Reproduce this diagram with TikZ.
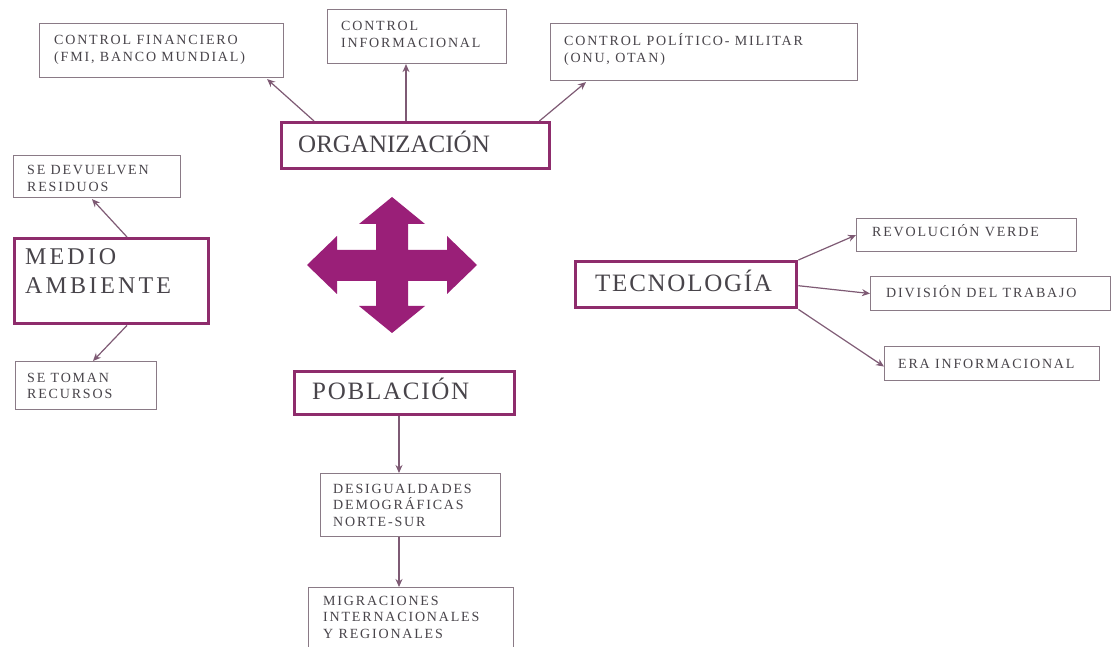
\documentclass[tikz,border=0pt]{standalone}
\usepackage{fontspec}
\setmainfont{Liberation Serif}
\newfontfamily\smallf[LetterSpace=13]{Liberation Serif}
\newfontfamily\bigf{Liberation Serif}
\usetikzlibrary{arrows.meta,calc}
\definecolor{thickc}{HTML}{8E2C6C}
\definecolor{crossc}{HTML}{9A1F78}
\definecolor{thinc}{HTML}{8A7A86}
\definecolor{txtc}{HTML}{48444A}
\definecolor{connc}{HTML}{7E5A74}
\begin{document}
\begin{tikzpicture}[x=1pt,y=-1pt,
  thinbox/.style={draw=thinc, line width=1.1pt, inner sep=0pt, anchor=north west},
  thickbox/.style={draw=thickc, line width=3.4pt, inner sep=0pt, anchor=north west},
  stxt/.style={text=txtc, inner sep=0pt, anchor=base west, font=\smallf\fontsize{14}{16.5}\selectfont},
  btxt/.style={text=txtc, inner sep=0pt, anchor=base west, font=\bigf\fontsize{25}{29}\selectfont},
  conn/.style={draw=connc, line width=1.2pt, -{Stealth[length=8pt,width=7pt]}}
]
\useasboundingbox (0,0) rectangle (1112,647);
\fill[white] (0,0) rectangle (1112,647);

% thin boxes
\node[thinbox, minimum width=244, minimum height=54] (fin) at (39,23) {};
\node[thinbox, minimum width=179, minimum height=54] (info) at (327,9) {};
\node[thinbox, minimum width=307, minimum height=57] (pol) at (550,23) {};
\node[thinbox, minimum width=167, minimum height=42] (dev) at (13,155) {};
\node[thinbox, minimum width=141, minimum height=48] (tom) at (15,361) {};
\node[thinbox, minimum width=220, minimum height=33] (rev) at (856,218) {};
\node[thinbox, minimum width=240, minimum height=34] (div) at (870,276) {};
\node[thinbox, minimum width=215, minimum height=34] (era) at (884,346) {};
\node[thinbox, minimum width=180, minimum height=63] (des) at (320,473) {};
\node[thinbox, minimum width=205, minimum height=80] (mig) at (308,587) {};

% thick boxes
\node[thickbox, minimum width=268, minimum height=46] (org) at (280,121) {};
\node[thickbox, minimum width=194, minimum height=85] (med) at (13,237) {};
\node[thickbox, minimum width=221, minimum height=46] (tec) at (574,260) {};
\node[thickbox, minimum width=220, minimum height=43] (pob) at (293,370) {};

% small texts
\node[stxt] (fint) at (54,45) {\begin{tabular}[t]{@{}l@{}}CONTROL FINANCIERO\\(FMI, BANCO MUNDIAL)\end{tabular}};
\node[stxt] (infot) at (341,31) {\begin{tabular}[t]{@{}l@{}}CONTROL\\INFORMACIONAL\end{tabular}};
\node[stxt] (polt) at (564,46) {\begin{tabular}[t]{@{}l@{}}CONTROL POLÍTICO- MILITAR\\(ONU, OTAN)\end{tabular}};
\node[stxt] (devt) at (27,175) {\begin{tabular}[t]{@{}l@{}}SE DEVUELVEN\\RESIDUOS\end{tabular}};
\node[stxt] (tomt) at (27,382) {\begin{tabular}[t]{@{}l@{}}SE TOMAN\\RECURSOS\end{tabular}};
\node[stxt] (revt) at (872,237) {REVOLUCIÓN VERDE};
\node[stxt] (divt) at (886,298) {DIVISIÓN DEL TRABAJO};
\node[stxt] (erat) at (898,368) {ERA INFORMACIONAL};
\node[stxt] (dest) at (333,493) {\begin{tabular}[t]{@{}l@{}}DESIGUALDADES\\DEMOGRÁFICAS\\NORTE-SUR\end{tabular}};
\node[stxt] (migt) at (323,605) {\begin{tabular}[t]{@{}l@{}}MIGRACIONES\\INTERNACIONALES\\Y REGIONALES\end{tabular}};

% big texts
\node[btxt] (orgt) at (298,153) {ORGANIZACIÓN};
\node[btxt, font=\bigf\fontsize{24}{29}\selectfont\addfontfeatures{LetterSpace=13}] (medt) at (25,265) {\begin{tabular}[t]{@{}l@{}}MEDIO\\AMBIENTE\end{tabular}};
\node[btxt, font=\bigf\fontsize{25}{29}\selectfont\addfontfeatures{LetterSpace=7}] (tect) at (595,292) {TECNOLOGÍA};
\node[btxt, font=\bigf\fontsize{25}{29}\selectfont\addfontfeatures{LetterSpace=7}] (pobt) at (312,399) {POBLACIÓN};

% cross arrow
\fill[crossc] (392,197) -- (425,224) -- (408,224) -- (408,250) -- (447,250) -- (447,236)
  -- (477,265) -- (447,294) -- (447,281) -- (408,281) -- (408,306) -- (425,306)
  -- (392,333) -- (359,306) -- (376,306) -- (376,281) -- (337,281) -- (337,294)
  -- (307,265) -- (337,236) -- (337,250) -- (376,250) -- (376,224) -- (359,224) -- cycle;

% connectors
\draw[conn] ($(org.north west)+(34,0)$) -- ($(fin.south east)+(-17,1)$);
\draw[conn] ($(org.north west)+(126,0)$) -- ($(info.south west)+(79,0)$);
\draw[conn] ($(org.north east)+(-12,0)$) -- ($(pol.south west)+(36,1)$);
\draw[conn] ($(med.north west)+(114,0)$) -- ($(dev.south west)+(79,1)$);
\draw[conn] ($(med.south west)+(114,0)$) -- ($(tom.north west)+(78,0)$);
\draw[conn] (tec.north east) -- (rev.west);
\draw[conn] ($(tec.east)+(0,1)$) -- (div.west);
\draw[conn] (tec.south east) -- ($(era.west)+(0,3)$);
\draw[conn] ($(pob.south west)+(106,0)$) -- ($(des.north west)+(79,0)$);
\draw[conn] ($(des.south west)+(79,0)$) -- ($(mig.north west)+(91,0)$);
\end{tikzpicture}
\end{document}
